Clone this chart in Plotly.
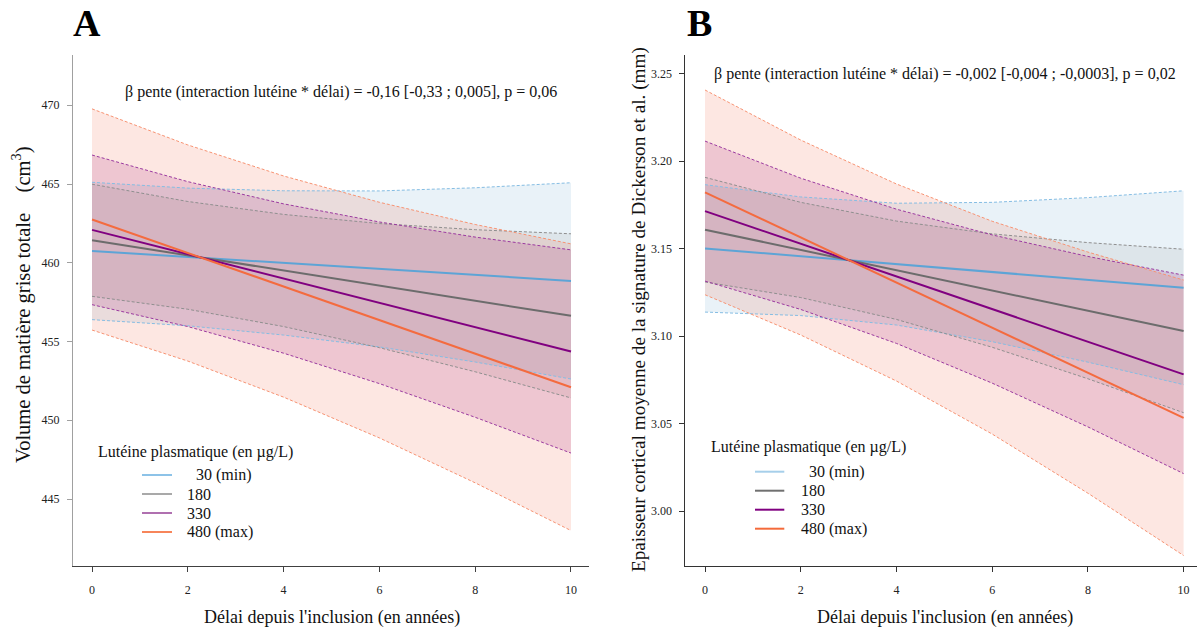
import plotly.graph_objects as go

W, H = 1198, 630

# ---------------- data ----------------
years = [0, 2, 4, 6, 8, 10]
levels = ["30", "180", "330", "480"]
level_labels = ["30 (min)", "180", "330", "480 (max)"]

# Panel A : Volume de matière grise totale (cm3)
A_mean_30 = [460.75, 460.37, 459.99, 459.61, 459.23, 458.85]
A_mean_180 = [461.43, 460.47, 459.51, 458.55, 457.59, 456.63]
A_mean_330 = [462.09, 460.55, 459.00, 457.46, 455.91, 454.37]
A_mean_480 = [462.75, 460.62, 458.49, 456.36, 454.23, 452.10]

A_upper_30 = [465.11, 464.74, 464.57, 464.56, 464.76, 465.08]
A_upper_180 = [464.99, 463.89, 463.07, 462.49, 462.10, 461.84]
A_upper_330 = [466.84, 465.15, 463.74, 462.59, 461.63, 460.82]
A_upper_480 = [469.77, 467.48, 465.51, 463.84, 462.43, 461.20]

A_lower_30 = [456.39, 456.00, 455.41, 454.66, 453.70, 452.62]
A_lower_180 = [457.87, 457.05, 455.95, 454.61, 453.08, 451.42]
A_lower_330 = [457.34, 455.95, 454.26, 452.33, 450.19, 447.92]
A_lower_480 = [455.73, 453.76, 451.47, 448.88, 446.03, 443.00]

# Panel B : Epaisseur corticale (mm)
B_mean_30 = [3.1502, 3.1457, 3.1412, 3.1367, 3.1322, 3.1277]
B_mean_180 = [3.1609, 3.1493, 3.1377, 3.1261, 3.1146, 3.1030]
B_mean_330 = [3.1715, 3.1528, 3.1342, 3.1155, 3.0969, 3.0782]
B_mean_480 = [3.1822, 3.1564, 3.1307, 3.1049, 3.0792, 3.0534]

B_upper_30 = [3.1866, 3.1796, 3.1760, 3.1765, 3.1792, 3.1831]
B_upper_180 = [3.1908, 3.1765, 3.1658, 3.1585, 3.1535, 3.1497]
B_upper_330 = [3.2115, 3.1903, 3.1726, 3.1579, 3.1456, 3.1349]
B_upper_480 = [3.2407, 3.2121, 3.1870, 3.1657, 3.1481, 3.1321]

B_lower_30 = [3.1138, 3.1118, 3.1064, 3.0969, 3.0852, 3.0723]
B_lower_180 = [3.1310, 3.1221, 3.1096, 3.0937, 3.0757, 3.0563]
B_lower_330 = [3.1315, 3.1153, 3.0959, 3.0732, 3.0482, 3.0215]
B_lower_480 = [3.1237, 3.1007, 3.0744, 3.0441, 3.0103, 2.9747]

A_ticks = [445, 450, 455, 460, 465, 470]
B_ticks = [3.00, 3.05, 3.10, 3.15, 3.20, 3.25]
x_ticks = [0, 2, 4, 6, 8, 10]

A_text = "β pente (interaction lutéine * délai) = -0,16 [-0,33 ; 0,005], p = 0,06"
B_text = "β pente (interaction lutéine * délai) = -0,002 [-0,004 ; -0,0003], p = 0,02"

# ---------------- styles ----------------
FONT = "Liberation Serif, Times New Roman, serif"
fill_cols = {"30": "rgba(107,165,210,0.15)", "180": "rgba(100,100,100,0.09)",
             "330": "rgba(140,0,120,0.15)", "480": "rgba(240,95,60,0.15)"}
dash_cols = {"30": "#85BDE3", "180": "#8F8F8F", "330": "#9B3AA0", "480": "#F79373"}
mean_cols = {"30": "#5DA4D6", "180": "#6C6C6C", "330": "#800080", "480": "#F46B3F"}
legA_cols = {"30": "#8DC3E8", "180": "#A9A9A9", "330": "#B070B0", "480": "#F7855A"}
legB_cols = {"30": "#A6CFEA", "180": "#707070", "330": "#800080", "480": "#F46A3A"}

panels = {
    "A": dict(xa="x", ya="y",
              mean=[A_mean_30, A_mean_180, A_mean_330, A_mean_480],
              upper=[A_upper_30, A_upper_180, A_upper_330, A_upper_480],
              lower=[A_lower_30, A_lower_180, A_lower_330, A_lower_480]),
    "B": dict(xa="x2", ya="y2",
              mean=[B_mean_30, B_mean_180, B_mean_330, B_mean_480],
              upper=[B_upper_30, B_upper_180, B_upper_330, B_upper_480],
              lower=[B_lower_30, B_lower_180, B_lower_330, B_lower_480]),
}

fig = go.Figure()

for key, p in panels.items():
    # confidence band fills
    for lv, up, lo in zip(levels, p["upper"], p["lower"]):
        fig.add_trace(go.Scatter(
            x=years + years[::-1], y=up + lo[::-1], fill="toself",
            fillcolor=fill_cols[lv], line=dict(width=0), mode="lines",
            hoverinfo="skip", showlegend=False, xaxis=p["xa"], yaxis=p["ya"]))
    # dashed band edges
    for lv, up, lo in zip(levels, p["upper"], p["lower"]):
        for yy in (up, lo):
            fig.add_trace(go.Scatter(
                x=years, y=yy, mode="lines",
                line=dict(color=dash_cols[lv], width=1, dash="3px,2px"),
                hoverinfo="skip", showlegend=False, xaxis=p["xa"], yaxis=p["ya"]))
    # mean lines
    for lv, mm in zip(levels, p["mean"]):
        fig.add_trace(go.Scatter(
            x=years, y=mm, mode="lines",
            line=dict(color=mean_cols[lv], width=2),
            showlegend=False, xaxis=p["xa"], yaxis=p["ya"], name=lv))


def px(x):
    return x / W


def py(y):
    return 1 - y / H


ydom = [py(566), py(55)]
axis_common = dict(showgrid=False, zeroline=False, showline=True, ticks="outside",
                   ticklen=5, tickwidth=1,
                   tickfont=dict(family=FONT, size=12, color="#222"))

fig.update_layout(
    width=W, height=H, margin=dict(l=0, r=0, t=0, b=0),
    paper_bgcolor="white", plot_bgcolor="white", showlegend=False,
    xaxis=dict(domain=[px(73), px(589)], range=[-0.397, 10.376], tickvals=x_ticks,
               anchor="y", linecolor="#404040", tickcolor="#404040",
               ticklabelstandoff=8, **axis_common),
    yaxis=dict(domain=ydom, range=[440.75, 473.19], tickvals=A_ticks,
               anchor="x", linecolor="#A0A0A0", tickcolor="#A0A0A0",
               ticklabelstandoff=5, **axis_common),
    xaxis2=dict(domain=[px(685.4), px(1197)], range=[-0.41, 10.28], tickvals=x_ticks,
                anchor="y2", linecolor="#333", tickcolor="#333",
                ticklabelstandoff=8, **axis_common),
    yaxis2=dict(domain=ydom, range=[2.9687, 3.2607], tickvals=B_ticks, tickformat=".2f",
                anchor="x2", linecolor="#333", tickcolor="#333",
                ticklabelstandoff=5, **axis_common),
)

ann = []


def add_text(text, x, y, size, xanchor="center", yanchor="middle", angle=0, bold=False, color="#111"):
    ann.append(dict(text=f"<b>{text}</b>" if bold else text, x=px(x), y=py(y),
                    xref="paper", yref="paper", showarrow=False,
                    xanchor=xanchor, yanchor=yanchor, textangle=angle,
                    font=dict(family=FONT, size=size, color=color)))


# panel letters
add_text("A", 87, 23, 38, bold=True, color="black")
add_text("B", 699, 23, 38, bold=True, color="black")

# stat annotations
add_text(A_text, 341, 92, 16)
add_text(B_text, 945, 74, 16)

# axis titles
xtitle = "Délai depuis l'inclusion (en années)"
add_text(xtitle, 332, 617, 18)
add_text(xtitle, 945, 617, 18)
add_text("Volume de matière grise totale\u00a0\u00a0\u00a0\u00a0(cm<sup>3</sup>)", 21, 305, 20.5, angle=-90)
add_text("Epaisseur cortical moyenne de la signature de Dickerson et al. (mm)", 639, 310, 19.2, angle=-90)

# legends
shapes = []
legend_title = "Lutéine plasmatique (en µg/L)"
for (tx, ty, lx0, lx1, rows, lab_x, lab_x30, cols) in [
    (96.3, 451.7, 142, 172, [475, 494, 513, 532], 185.3, 193.7, legA_cols),
    (709.3, 446.7, 755, 784.3, [471.7, 490.7, 509.7, 528.7], 799.3, 807.3, legB_cols),
]:
    add_text(legend_title, tx, ty, 16, xanchor="left")
    for lv, lab, ry in zip(levels, level_labels, rows):
        shapes.append(dict(type="line", xref="paper", yref="paper",
                           x0=px(lx0), x1=px(lx1), y0=py(ry), y1=py(ry),
                           line=dict(color=cols[lv], width=2)))
        add_text(lab, lab_x30 if lv == "30" else lab_x, ry, 16, xanchor="left")

fig.update_layout(annotations=ann, shapes=shapes)
fig.write_html(
    "out.html",
    config={"displayModeBar": False},
    post_script="document.body.style.margin='0px';document.body.style.padding='0px';"
                "document.body.style.overflow='hidden';",
)
